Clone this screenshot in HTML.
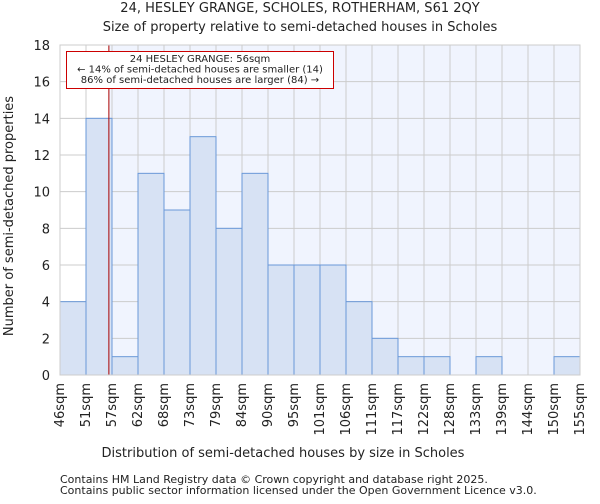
<!DOCTYPE html>
<html><head><meta charset="utf-8"><style>
body{margin:0;background:#fff;font-family:"DejaVu Sans","Liberation Sans",sans-serif;}
svg text{font-family:"DejaVu Sans","Liberation Sans",sans-serif;fill:#222;}
</style></head><body>
<svg id="c" width="600" height="500" xmlns="http://www.w3.org/2000/svg">
<text x="300" y="12" text-anchor="middle" font-size="13">24, HESLEY GRANGE, SCHOLES, ROTHERHAM, S61 2QY</text>
<text x="300" y="31" text-anchor="middle" font-size="13">Size of property relative to semi-detached houses in Scholes</text>
<g id="plot"></g>
<text x="283" y="457" text-anchor="middle" font-size="13">Distribution of semi-detached houses by size in Scholes</text>
<text transform="translate(13,216) rotate(-90)" text-anchor="middle" font-size="13">Number of semi-detached properties</text>
<text x="60" y="483" font-size="11" fill="#444">Contains HM Land Registry data © Crown copyright and database right 2025.</text>
<text x="60" y="494" font-size="11" fill="#444">Contains public sector information licensed under the Open Government Licence v3.0.</text>
</svg>
<script>
const tickLabels=["46sqm","51sqm","57sqm","62sqm","68sqm","73sqm","79sqm","84sqm","90sqm","95sqm","101sqm","106sqm","111sqm","117sqm","122sqm","128sqm","133sqm","139sqm","144sqm","150sqm","155sqm"];
const counts=[4,14,1,11,9,13,8,11,6,6,6,4,2,1,1,0,1,0,0,1];
const yTicks=[0,2,4,6,8,10,12,14,16,18];
const markerBinPos=1.88;
const NS="http://www.w3.org/2000/svg";
const L=60,R=580,T=45,B=375,yMax=18;
const bw=(R-L)/counts.length;
const xs=i=>L+i*bw;
const ys=v=>B-(v/yMax)*(B-T);
const g=document.getElementById('plot');
function mk(tag,attrs){const e=document.createElementNS(NS,tag);for(const k in attrs)e.setAttribute(k,attrs[k]);g.appendChild(e);return e;}
const mx=xs(markerBinPos);
let e=mk('rect',{x:L,y:T,width:mx-L,height:B-T,fill:'#ffffff'});


e=mk('rect',{x:mx,y:T,width:R-mx,height:B-T,fill:'#f0f4fe'});


for(let i=0;i<=counts.length;i++){
 e=mk('line',{x1:xs(i),x2:xs(i),y1:T,y2:B,stroke:'#cccccc','stroke-width':1});
 
 
}
yTicks.forEach(v=>{
 e=mk('line',{x1:L,x2:R,y1:ys(v),y2:ys(v),stroke:'#cccccc','stroke-width':1});
 
 
 e=mk('text',{x:L-10,y:ys(v)+5,'text-anchor':'end','font-size':13});
 e.textContent=v;
 
 
});
counts.forEach((c,i)=>{
 if(c<=0)return;
 e=mk('rect',{x:xs(i),y:ys(c),width:bw,height:B-ys(c),fill:'#d7e2f4',stroke:'#6a98d8','stroke-width':1});
 
 
});
tickLabels.forEach((t,i)=>{
 const x=xs(i)+4;
 e=mk('text',{x:x,y:B+8,'text-anchor':'end','font-size':13,transform:`rotate(-90 ${x} ${B+8})`});
 e.textContent=t;
 
 
});
e=mk('line',{x1:mx,x2:mx,y1:T,y2:B,stroke:'#aa0000','stroke-width':1});


e=mk('rect',{x:66.5,y:51.5,width:267,height:37,fill:'#ffffff',stroke:'#cc0000','stroke-width':1});


const ann=["24 HESLEY GRANGE: 56sqm","← 14% of semi-detached houses are smaller (14)","86% of semi-detached houses are larger (84) →"];
ann.forEach((t,i)=>{
 e=mk('text',{x:200,y:62+i*10.5,'text-anchor':'middle','font-size':10});
 e.textContent=t;
 
 
});
e=mk('rect',{x:L,y:T,width:R-L,height:B-T,fill:'none',stroke:'#cccccc'});


</script>
</body></html>
